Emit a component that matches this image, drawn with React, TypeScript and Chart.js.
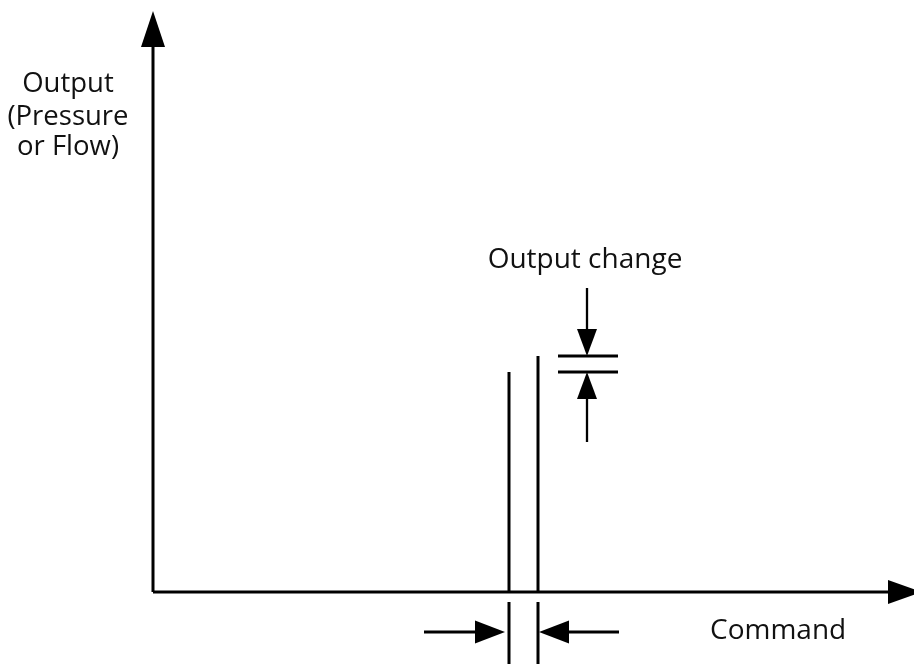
import React, { useEffect, useRef } from "react";
import { Chart, registerables } from "chart.js";

Chart.register(...registerables);

// ---- Data (units: origin at the axis crossing, 1 unit ≈ 1 px) ----
const axisExtent = { xMin: -153, xMax: 761, yMin: -72, yMax: 592 };
const commandSteps = [356, 385]; // command before / after the step
const outputLevels = [220, 236]; // output before / after the step
const outputMarkerSpan = [405, 465]; // x span of the "output change" marker lines
const outputArrowX = 434;
const outputArrowTails = [304, 150]; // down arrow tail, up arrow tail
const commandArrowY = -40;
const commandArrowTails = [271, 466]; // left arrow tail, right arrow tail
const belowAxisSpan = [-10, -72];
const yAxisTop = 581;
const xAxisEnd = 769;
const yAxisLabel = ["Output", "(Pressure", "or Flow)"];
const xAxisLabel = "Command";
const changeLabel = "Output change";

type Arrow = { from: [number, number]; to: [number, number]; len: number; w: number; lw: number };

const arrows: Arrow[] = [
  { from: [0, 0], to: [0, yAxisTop], len: 36, w: 24, lw: 3 },
  { from: [0, 0], to: [xAxisEnd, 0], len: 34, w: 24, lw: 3 },
  { from: [outputArrowX, outputArrowTails[0]], to: [outputArrowX, outputLevels[1]], len: 27, w: 20, lw: 2.3 },
  { from: [outputArrowX, outputArrowTails[1]], to: [outputArrowX, outputLevels[0]], len: 27, w: 20, lw: 2.3 },
  { from: [commandArrowTails[0], commandArrowY], to: [commandSteps[0] - 4, commandArrowY], len: 30, w: 23, lw: 3 },
  { from: [commandArrowTails[1], commandArrowY], to: [commandSteps[1] + 1, commandArrowY], len: 30, w: 23, lw: 3 },
];

const seg = (pts: [number, number][], width = 3) => ({
  type: "line" as const,
  data: pts.map(([x, y]) => ({ x, y })),
  borderColor: "#000",
  backgroundColor: "#000",
  borderWidth: width,
  pointRadius: 0,
  showLine: true,
  fill: false,
  tension: 0,
  borderCapStyle: "butt" as const,
});

const FONT = "'Open Sans', 'Noto Sans', sans-serif";

const arrowPlugin = {
  id: "diagramExtras",
  afterDatasetsDraw(chart: any) {
    const { ctx } = chart;
    const sx = chart.scales.x;
    const sy = chart.scales.y;
    const px = (v: number) => sx.getPixelForValue(v);
    const py = (v: number) => sy.getPixelForValue(v);
    ctx.save();
    ctx.fillStyle = "#000";
    ctx.strokeStyle = "#000";
    for (const a of arrows) {
      const x0 = px(a.from[0]), y0 = py(a.from[1]);
      const x1 = px(a.to[0]), y1 = py(a.to[1]);
      const dx = x1 - x0, dy = y1 - y0;
      const L = Math.hypot(dx, dy);
      const ux = dx / L, uy = dy / L;
      const bx = x1 - ux * a.len, by = y1 - uy * a.len;
      ctx.lineWidth = a.lw;
      ctx.lineCap = "butt";
      ctx.beginPath();
      ctx.moveTo(x0, y0);
      ctx.lineTo(bx + ux, by + uy);
      ctx.stroke();
      const nx = -uy, ny = ux;
      ctx.beginPath();
      ctx.moveTo(x1, y1);
      ctx.lineTo(bx + nx * a.w / 2, by + ny * a.w / 2);
      ctx.lineTo(bx - nx * a.w / 2, by - ny * a.w / 2);
      ctx.closePath();
      ctx.fill();
    }
    // Texts
    ctx.fillStyle = "#111";
    ctx.textAlign = "center";
    ctx.textBaseline = "alphabetic";
    ctx.font = `27.5px ${FONT}`;
    const yl = [500, 467, 437];
    yAxisLabel.forEach((t, i) => ctx.fillText(t, px(-85), py(yl[i])));
    ctx.font = `28px ${FONT}`;
    ctx.fillText(changeLabel, px(432), py(324));
    ctx.textAlign = "left";
    ctx.font = `28px ${FONT}`;
    ctx.fillText(xAxisLabel, px(557), py(-47));
    ctx.restore();
  },
};

export default function App() {
  const ref = useRef<HTMLCanvasElement | null>(null);
  useEffect(() => {
    document.body.style.margin = "0";
    const canvas = ref.current!;
    const chart = new Chart(canvas, {
      type: "line",
      data: {
        datasets: [
          // step lines above axis
          seg([[commandSteps[0], 0], [commandSteps[0], outputLevels[0]]]),
          seg([[commandSteps[1], 0], [commandSteps[1], outputLevels[1]]]),
          // below axis
          seg([[commandSteps[0], belowAxisSpan[0]], [commandSteps[0], belowAxisSpan[1]]]),
          seg([[commandSteps[1], belowAxisSpan[0]], [commandSteps[1], belowAxisSpan[1]]]),
          // output change markers
          seg([[outputMarkerSpan[0], outputLevels[1]], [outputMarkerSpan[1], outputLevels[1]]]),
          seg([[outputMarkerSpan[0], outputLevels[0]], [outputMarkerSpan[1], outputLevels[0]]]),
        ] as any,
      },
      options: {
        animation: false,
        responsive: false,
        devicePixelRatio: 1,
        layout: { padding: 0 },
        plugins: { legend: { display: false }, tooltip: { enabled: false } },
        scales: {
          x: { type: "linear", min: axisExtent.xMin, max: axisExtent.xMax, display: false },
          y: { type: "linear", min: axisExtent.yMin, max: axisExtent.yMax, display: false },
        },
      },
      plugins: [arrowPlugin],
    });
    return () => chart.destroy();
  }, []);
  return (
    <div style={{ width: 914, height: 664, background: "#fff" }}>
      <canvas ref={ref} width={914} height={664} style={{ display: "block" }} />
    </div>
  );
}
